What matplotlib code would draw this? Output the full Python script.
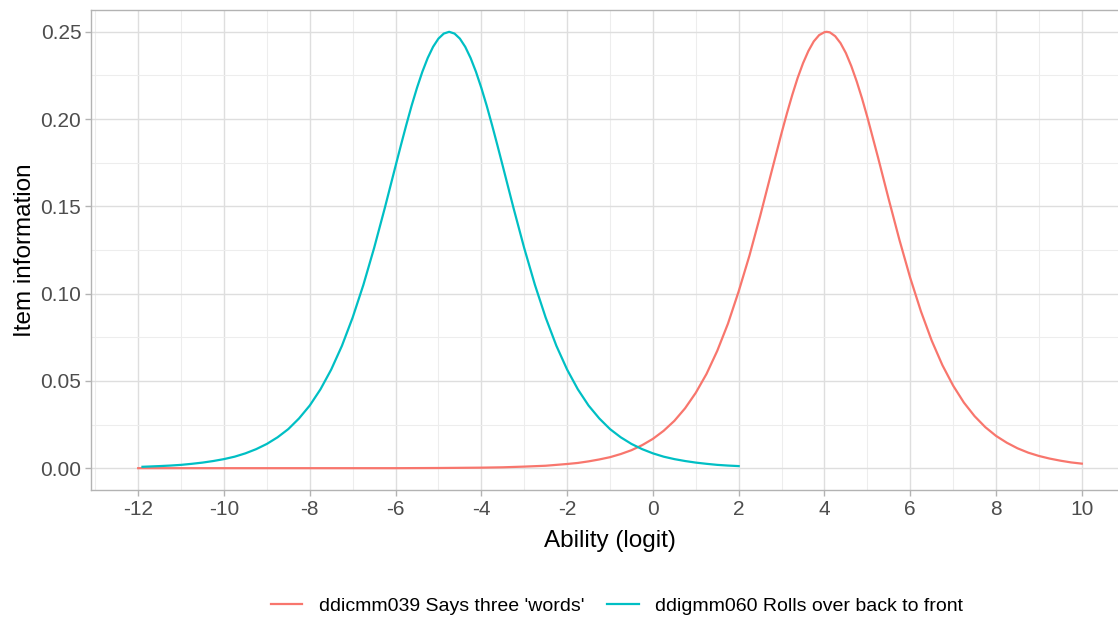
import matplotlib
matplotlib.use("Agg")
import matplotlib.pyplot as plt

plt.rcParams['font.family'] = ['Liberation Sans', 'DejaVu Sans']

# 能力 (logit) 与项目信息
red_x = [-12, -10, -8, -6, -5, -4, -3.5, -3, -2.5, -2, -1.75, -1.5, -1.25, -1, -0.75, -0.5, -0.25,
         0, 0.25, 0.5, 0.75, 1, 1.25, 1.5, 1.75, 2, 2.25, 2.5, 2.75,
         3, 3.125, 3.25, 3.375, 3.5, 3.625, 3.75, 3.875, 4, 4.05, 4.125, 4.25, 4.375, 4.5, 4.625,
         4.75, 4.875, 5, 5.25, 5.5, 5.75,
         6, 6.25, 6.5, 6.75, 7, 7.25, 7.5, 7.75, 8, 8.25, 8.5, 8.75, 9, 9.25, 9.5, 9.75, 10]
red_y = [0.0, 0.0, 0.0, 0.0, 0.0001, 0.0003, 0.0005, 0.0009, 0.0014, 0.0024, 0.0030, 0.0039, 0.0050,
         0.0063, 0.0081, 0.0103, 0.0132,
         0.0168, 0.0214, 0.0271, 0.0343, 0.0432, 0.0540, 0.0672, 0.0828, 0.1013, 0.1217, 0.1444, 0.1683,
         0.1920, 0.2033, 0.2139, 0.2236, 0.2320, 0.2390, 0.2445, 0.2481, 0.2498, 0.2500, 0.2497, 0.2475,
         0.2435, 0.2378, 0.2304,
         0.2217, 0.2119, 0.2011, 0.1779, 0.1539, 0.1306,
         0.1090, 0.0898, 0.0731, 0.0590, 0.0473, 0.0376, 0.0298, 0.0235, 0.0185, 0.0146, 0.0114, 0.0089,
         0.0070, 0.0055, 0.0043, 0.0033, 0.0026]

cyan_x = [-11.9, -11.5, -11.25, -11, -10.75, -10.5, -10.25, -10, -9.75, -9.5, -9.25, -9, -8.75,
          -8.5, -8.25, -8, -7.75,
          -7.5, -7.25, -7, -6.75, -6.5, -6.25, -6, -5.875, -5.75, -5.625, -5.5, -5.375, -5.25,
          -5.125, -5, -4.875, -4.75,
          -4.625, -4.5, -4.375, -4.25, -4.125, -4, -3.875, -3.75, -3.625, -3.5, -3.25, -3, -2.75,
          -2.5, -2.25, -2, -1.75,
          -1.5, -1.25, -1, -0.75, -0.5, -0.25, 0, 0.25, 0.5, 0.75, 1, 1.25, 1.5, 1.75, 2]
cyan_y = [0.0008, 0.0012, 0.0015, 0.0019, 0.0025, 0.0032, 0.0041, 0.0052, 0.0066, 0.0085, 0.0109,
          0.0139, 0.0177, 0.0224, 0.0285, 0.0359, 0.0452,
          0.0565, 0.0701, 0.0863, 0.1050, 0.1261, 0.1491, 0.1731, 0.1850, 0.1966, 0.2077, 0.2179,
          0.2271, 0.2350, 0.2414, 0.2461, 0.2490, 0.2500,
          0.2490, 0.2461, 0.2414, 0.2350, 0.2271, 0.2179, 0.2077, 0.1966, 0.1850, 0.1731, 0.1491,
          0.1261, 0.1050, 0.0863, 0.0701, 0.0565, 0.0452,
          0.0359, 0.0285, 0.0224, 0.0177, 0.0139, 0.0109, 0.0085, 0.0066, 0.0052, 0.0041, 0.0032,
          0.0025, 0.0019, 0.0015, 0.0012]

labels = ["ddicmm039 Says three 'words'", "ddigmm060 Rolls over back to front"]
colors = ["#F8766D", "#00BFC4"]

x_major = list(range(-12, 11, 2))
x_minor = list(range(-13, 10, 2))
y_major = [0, 0.05, 0.10, 0.15, 0.20, 0.25]
y_minor = [0.025, 0.075, 0.125, 0.175, 0.225]

fig = plt.figure(figsize=(11.18, 6.18), dpi=100)
# 面板右边超出画布(原图被裁切)
ax = fig.add_axes([91 / 1118, 1 - 490 / 618, 1038 / 1118, 480 / 618])

l1, = ax.plot(red_x, red_y, color=colors[0], lw=1.6, solid_joinstyle='round')
l2, = ax.plot(cyan_x, cyan_y, color=colors[1], lw=1.6, solid_joinstyle='round')

ax.set_xlim(-13.1, 11.1)
ax.set_ylim(-0.0125, 0.2625)
ax.set_xticks(x_major)
ax.set_xticklabels([str(v) for v in x_major])
ax.set_xticks(x_minor, minor=True)
ax.set_yticks(y_major)
ax.set_yticklabels([f"{v:.2f}" for v in y_major])
ax.set_yticks(y_minor, minor=True)

ax.grid(which='major', color='#DEDEDE', lw=1.0)
ax.grid(which='minor', color='#EDEDED', lw=0.8)
ax.set_axisbelow(True)
for s in ax.spines.values():
    s.set_color('#B3B3B3')
    s.set_linewidth(1.0)
ax.tick_params(which='major', length=4.5, width=1.0, color='#B3B3B3',
               labelsize=15, labelcolor='#4D4D4D', pad=2.5)
ax.tick_params(which='minor', length=0)

ax.set_xlabel('Ability (logit)', fontsize=17.5, labelpad=8)
ax.set_ylabel('Item information', fontsize=17.5, labelpad=3)

fig.legend([l1, l2], labels, loc='center', bbox_to_anchor=(617 / 1118, 1 - 606 / 618),
           ncol=2, frameon=False, fontsize=14, handlelength=1.6,
           handletextpad=0.85, columnspacing=1.2)

fig.savefig('out.png', dpi=100)
